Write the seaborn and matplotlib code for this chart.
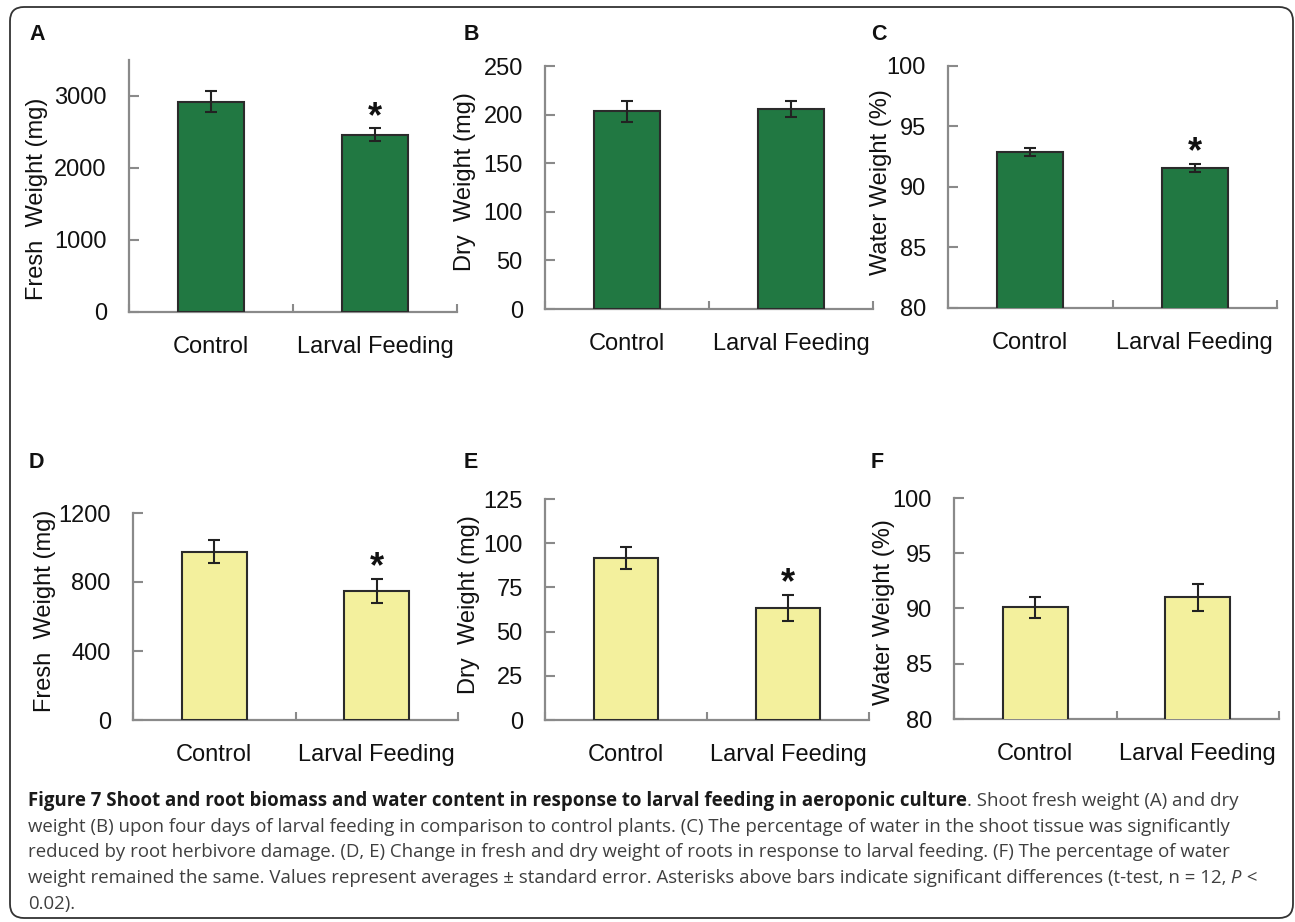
import numpy as np
import pandas as pd
import matplotlib
matplotlib.use("Agg")
import matplotlib.pyplot as plt
import seaborn as sns
from matplotlib.patches import FancyBboxPatch
from matplotlib.transforms import IdentityTransform

# ---------------- data ----------------
categories = ["Control", "Larval Feeding"]

shoot_fresh_mean = [2920, 2460]
shoot_fresh_se = [145, 90]
shoot_dry_mean = [203.5, 205.5]
shoot_dry_se = [11, 8]
shoot_water_mean = [92.9, 91.55]
shoot_water_se = [0.35, 0.35]

root_fresh_mean = [976, 746]
root_fresh_se = [67, 70]
root_dry_mean = [91.6, 63.3]
root_dry_se = [6.2, 7.3]
root_water_mean = [90.1, 91.0]
root_water_se = [0.97, 1.2]

sig_A = [False, True]
sig_B = [False, False]
sig_C = [False, True]
sig_D = [False, True]
sig_E = [False, True]
sig_F = [False, False]

ticks_A = [0, 1000, 2000, 3000]
ticks_B = [0, 50, 100, 150, 200, 250]
ticks_C = [80, 85, 90, 95, 100]
ticks_D = [0, 400, 800, 1200]
ticks_E = [0, 25, 50, 75, 100, 125]
ticks_F = [80, 85, 90, 95, 100]

caption_lines = [
    [("Figure 7 Shoot and root biomass and water content in response to larval feeding in aeroponic culture", "bold"),
     (". Shoot fresh weight (A) and dry", "normal")],
    [("weight (B) upon four days of larval feeding in comparison to control plants. (C) The percentage of water in the shoot tissue was significantly", "normal")],
    [("reduced by root herbivore damage. (D, E) Change in fresh and dry weight of roots in response to larval feeding. (F) The percentage of water", "normal")],
    [("weight remained the same. Values represent averages \u00b1 standard error. Asterisks above bars indicate significant differences (t-test, n = 12,", "normal"),
     (" P", "italic"), (" <", "normal")],
    [("0.02).", "normal")],
]

# ---------------- style ----------------
sns.set_style("white")
plt.rcParams["font.family"] = ["Liberation Sans", "DejaVu Sans"]

GREEN = "#217842"
YELLOW = "#f3f09d"
SPINE = "#8a8a8a"

W, H = 1295, 922
fig = plt.figure(figsize=(W / 100, H / 100), dpi=100)


def rect(l, r, t, b):
    return [l / W, 1 - b / H, (r - l) / W, (b - t) / H]


panels = [
    dict(letter="A", pos=(129, 457, 60, 312), mean=shoot_fresh_mean, se=shoot_fresh_se, sig=sig_A,
         ylim=(0, 3500), ticks=ticks_A, label="Fresh  Weight (mg)", color=GREEN,
         lab=(-0.247, 0.448), lxy=(29, 34)),
    dict(letter="B", pos=(545, 873, 66, 309), mean=shoot_dry_mean, se=shoot_dry_se, sig=sig_B,
         ylim=(0, 250), ticks=ticks_B, label="Dry  Weight (mg)", color=GREEN,
         lab=(-0.21, 0.523), lxy=(464, 34)),
    dict(letter="C", pos=(948, 1277, 66, 308), mean=shoot_water_mean, se=shoot_water_se, sig=sig_C,
         ylim=(80, 100), ticks=ticks_C, label="Water Weight (%)", color=GREEN,
         lab=(-0.17, 0.52), lxy=(871, 34)),
    dict(letter="D", pos=(133, 458, 513, 720), mean=root_fresh_mean, se=root_fresh_se, sig=sig_D,
         ylim=(0, 1200), ticks=ticks_D, label="Fresh  Weight (mg)", color=YELLOW,
         lab=(-0.237, 0.528), lxy=(29, 462)),
    dict(letter="E", pos=(545, 869, 499, 720), mean=root_dry_mean, se=root_dry_se, sig=sig_E,
         ylim=(0, 125), ticks=ticks_E, label="Dry  Weight (mg)", color=YELLOW,
         lab=(-0.20, 0.524), lxy=(464, 462)),
    dict(letter="F", pos=(954, 1279, 498, 719), mean=root_water_mean, se=root_water_se, sig=sig_F,
         ylim=(80, 100), ticks=ticks_F, label="Water Weight (%)", color=YELLOW,
         lab=(-0.182, 0.485), lxy=(871, 462)),
]

for p in panels:
    ax = fig.add_axes(rect(*p["pos"]))
    df = pd.DataFrame({"group": categories, "value": p["mean"]})
    sns.barplot(data=df, x="group", y="value", ax=ax, color=p["color"], saturation=1,
                width=0.4, edgecolor="#2b2b2b", linewidth=1.5, errorbar=None, zorder=2)
    ax.errorbar(x=np.arange(len(categories)), y=p["mean"], yerr=p["se"], fmt="none",
                ecolor="#222222", elinewidth=1.5, capsize=4.5, capthick=1.5, zorder=3)
    for i, (m, s, sg) in enumerate(zip(p["mean"], p["se"], p["sig"])):
        if sg:
            ax.annotate("*", xy=(i, m + s), xytext=(0, 8), textcoords="offset points",
                        ha="center", va="center", fontsize=26, fontweight="bold", color="#111111")
    ax.set_xlim(-0.5, 1.5)
    ax.set_ylim(*p["ylim"])
    ax.set_yticks(p["ticks"])
    ax.set_xticks([0, 1])
    ax.set_xticks([-0.5, 0.5, 1.5], minor=True)
    ax.set_xlabel("")
    ax.set_ylabel(p["label"], fontsize=17, color="#111111")
    ax.yaxis.set_label_coords(*p["lab"])
    for side in ["top", "right"]:
        ax.spines[side].set_visible(False)
    for side in ["left", "bottom"]:
        ax.spines[side].set_color(SPINE)
        ax.spines[side].set_linewidth(1.6)
        ax.spines[side].set_zorder(1)
    ax.tick_params(axis="y", which="major", direction="in", length=7, width=1.5, color=SPINE,
                   labelsize=17, pad=16, labelcolor="#111111", left=True)
    ax.tick_params(axis="x", which="major", length=0, labelsize=17, pad=17, labelcolor="#111111")
    ax.tick_params(axis="x", which="minor", direction="in", length=6, width=1.5, color=SPINE, bottom=True)
    ax.set_facecolor("none")
    fig.text(p["lxy"][0] / W, 1 - p["lxy"][1] / H, p["letter"], ha="left", va="center",
             fontsize=15.5, fontweight="bold", color="#111111")

# ---------------- border ----------------
border = FancyBboxPatch((10, 4), 1283, 911, boxstyle="round,pad=0,rounding_size=14",
                        transform=IdentityTransform(), fill=False, edgecolor="#333333", linewidth=1.3)
fig.add_artist(border)

# ---------------- caption ----------------
renderer = fig.canvas.get_renderer()
CAP_FONT = ["Open Sans", "DejaVu Sans"]


def seg_kwargs(style):
    if style == "bold":
        return dict(fontweight="bold", color="#1a1a1a")
    if style == "italic":
        return dict(fontstyle="italic", color="#3f3f3f")
    return dict(color="#3f3f3f")


def line_width(segs, size):
    total = 0
    for txt, st in segs:
        t = fig.text(0, 0, txt, transform=IdentityTransform(), fontsize=size, family=CAP_FONT,
                     **seg_kwargs(st))
        total += t.get_window_extent(renderer).width
        t.remove()
    return total


base = 11.0
targets = {0: 1245.0, 1: 1220.0, 3: 1234.0}
cap_size = min(base * tw / line_width(caption_lines[i], base) for i, tw in targets.items())

baselines = [806, 832, 857, 883, 909]
for segs, yb in zip(caption_lines, baselines):
    x = 28
    for txt, st in segs:
        t = fig.text(x, H - yb, txt, transform=IdentityTransform(), fontsize=cap_size,
                     family=CAP_FONT, ha="left", va="baseline", **seg_kwargs(st))
        x = t.get_window_extent(renderer).x1

fig.savefig("out.png", dpi=100)
